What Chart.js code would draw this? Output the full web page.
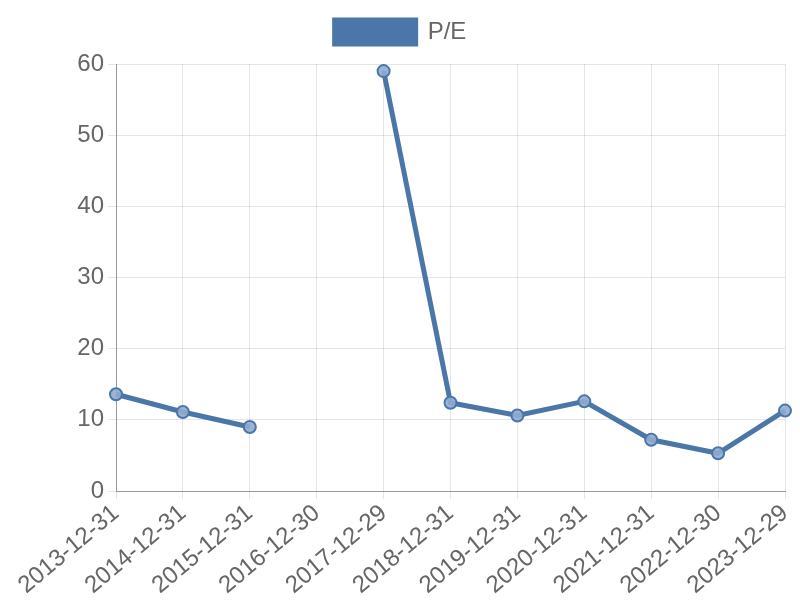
<!DOCTYPE html>
<html>
<head>
<meta charset="utf-8">
<script src="https://cdn.jsdelivr.net/npm/chart.js@4/dist/chart.umd.min.js"></script>
<style>
  body { margin: 0; background: #fff; }
  #wrap { width: 800px; height: 600px; }
</style>
</head>
<body>
<div id="wrap"><canvas id="chart"></canvas></div>
<script>
// data
const dates = ['2013-12-31', '2014-12-31', '2015-12-31', '2016-12-30', '2017-12-29', '2018-12-31',
  '2019-12-31', '2020-12-31', '2021-12-31', '2022-12-30', '2023-12-29'];
const peValues = [13.6, 11.1, 9.0, null, 59.0, 12.4, 10.6, 12.6, 7.2, 5.3, 11.3];
const yTicks = [0, 10, 20, 30, 40, 50, 60];

Chart.defaults.font.family = '"Liberation Sans", Arial, sans-serif';
Chart.defaults.color = '#666';

// a bit of extra room under the legend
const legendGap = {
  id: 'legendGap',
  beforeInit(chart) {
    const fit = chart.legend.fit;
    chart.legend.fit = function () {
      fit.bind(chart.legend)();
      this.height += 10;
    };
  }
};

let ctx = document.getElementById('chart').getContext('2d');
new Chart(ctx, {
  type: 'line',
  data: {
    labels: dates,
    datasets: [{
      label: 'P/E',
      data: peValues,
      borderColor: '#4a76a8',
      backgroundColor: '#4a76a8',
      pointBackgroundColor: 'rgba(145,172,208,0.9)',
      pointBorderColor: '#4a76a8',
      pointBorderWidth: 2,
      pointRadius: 6,
      borderWidth: 5,
      spanGaps: false,
      fill: false,
      tension: 0
    }]
  },
  plugins: [legendGap],
  options: {
    responsive: true,
    maintainAspectRatio: false,
    animation: false,
    layout: { padding: { left: 8, right: 7, top: 10, bottom: 0 } },
    plugins: {
      legend: {
        labels: {
          boxWidth: 81,
          boxHeight: 24,
          font: { size: 24 },
          padding: 10
        }
      },
      tooltip: { enabled: false }
    },
    scales: {
      x: {
        grid: { color: 'rgba(0,0,0,0.1)', tickLength: 8 },
        border: { color: '#999' },
        ticks: { font: { size: 24 }, maxRotation: 40, minRotation: 40, autoSkip: false, padding: 0 },
        afterFit: axis => {
          axis.height = 109;
          axis.paddingRight = 15;
        }
      },
      y: {
        min: 0,
        max: 60,
        afterBuildTicks: axis => { axis.ticks = yTicks.map(v => ({ value: v })); },
        grid: { color: 'rgba(0,0,0,0.1)', tickLength: 8 },
        border: { color: '#999' },
        ticks: { font: { size: 24 }, padding: 4 },
        afterFit: axis => { axis.width = 108; }
      }
    }
  }
});
</script>
</body>
</html>
